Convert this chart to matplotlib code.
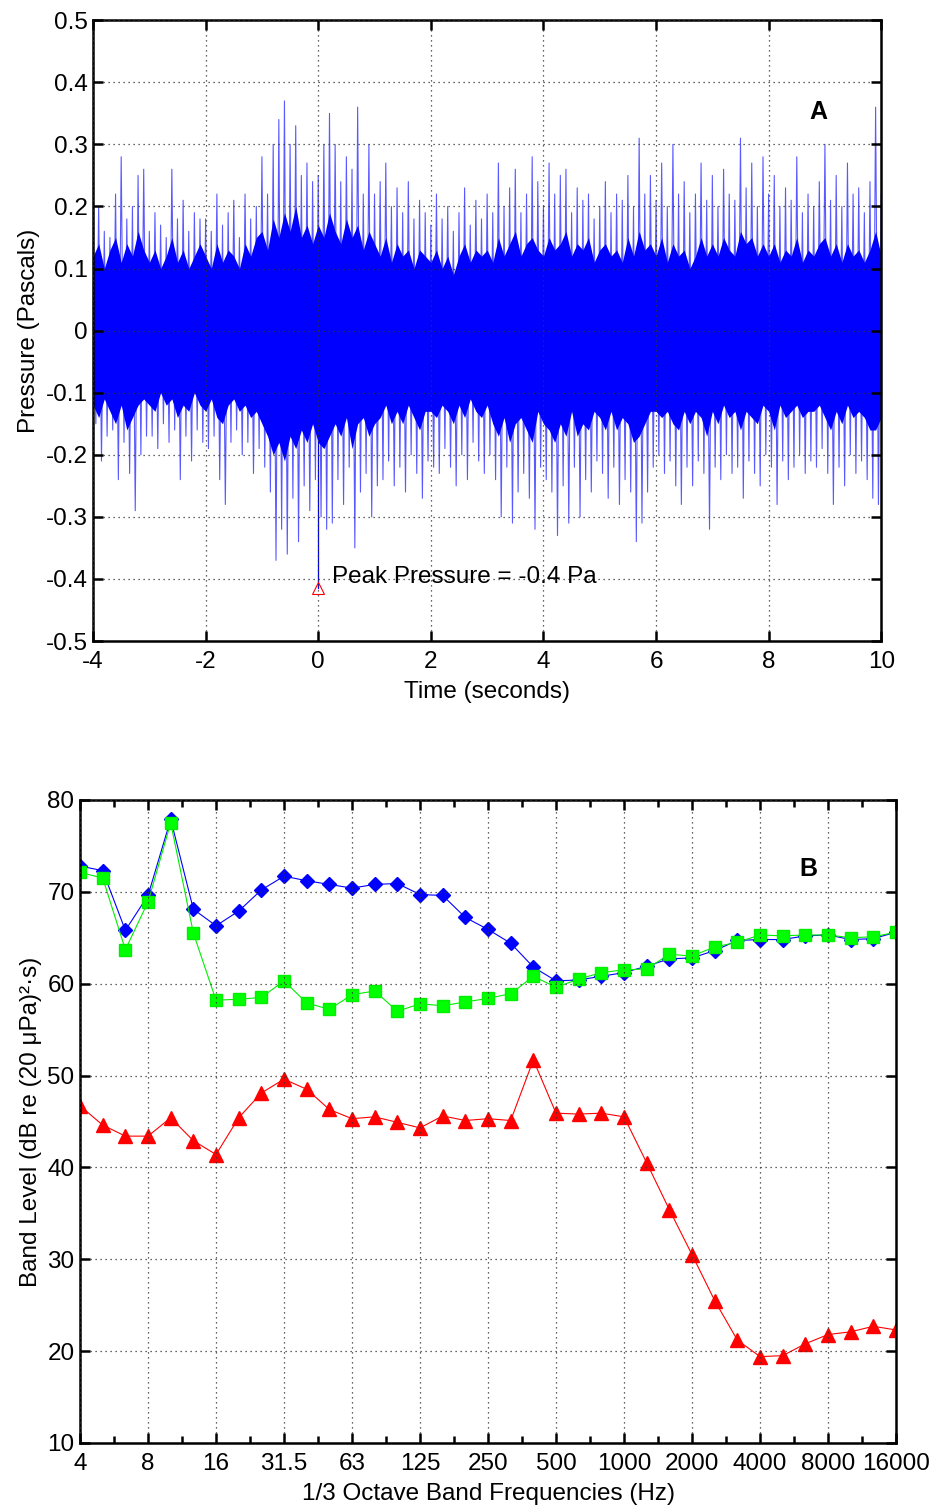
import numpy as np
import matplotlib
matplotlib.use("Agg")
from matplotlib import pyplot as plt

plt.rcParams['font.family'] = ['Liberation Sans', 'DejaVu Sans']
plt.rcParams['axes.unicode_minus'] = False

# ---- panel A: pressure trace, spike tips read every 0.1 s ----
t = np.linspace(-4, 10, 141)
upper = [0.17, 0.20, 0.16, 0.15, 0.22, 0.28, 0.18, 0.20, 0.25, 0.26,
         0.16, 0.19, 0.17, 0.15, 0.26, 0.18, 0.21, 0.16, 0.19, 0.18,
         0.18, 0.16, 0.22, 0.17, 0.19, 0.21, 0.15, 0.22, 0.18, 0.20,
         0.28, 0.22, 0.30, 0.34, 0.37, 0.30, 0.33, 0.25, 0.27, 0.24,
         0.25, 0.30, 0.35, 0.30, 0.24, 0.28, 0.26, 0.36, 0.22, 0.30,
         0.22, 0.24, 0.27, 0.20, 0.23, 0.19, 0.24, 0.18, 0.21, 0.19,
         0.17, 0.22, 0.18, 0.20, 0.16, 0.19, 0.23, 0.17, 0.21, 0.18,
         0.22, 0.19, 0.27, 0.20, 0.23, 0.26, 0.19, 0.22, 0.28, 0.24,
         0.20, 0.27, 0.22, 0.25, 0.26, 0.19, 0.23, 0.21, 0.22, 0.18,
         0.20, 0.24, 0.19, 0.22, 0.21, 0.25, 0.20, 0.31, 0.22, 0.25,
         0.21, 0.27, 0.20, 0.30, 0.22, 0.24, 0.19, 0.22, 0.27, 0.21,
         0.25, 0.20, 0.26, 0.22, 0.21, 0.31, 0.23, 0.27, 0.20, 0.28,
         0.22, 0.25, 0.20, 0.23, 0.21, 0.28, 0.19, 0.22, 0.20, 0.24,
         0.30, 0.21, 0.25, 0.20, 0.27, 0.22, 0.23, 0.19, 0.24, 0.36,
         0.22]
lower = [-0.15, -0.21, -0.17, -0.16, -0.24, -0.18, -0.23, -0.29, -0.20, -0.17,
         -0.17, -0.19, -0.15, -0.18, -0.16, -0.24, -0.17, -0.21, -0.16, -0.18,
         -0.19, -0.17, -0.24, -0.28, -0.18, -0.16, -0.20, -0.18, -0.23, -0.19,
         -0.22, -0.26, -0.37, -0.32, -0.36, -0.27, -0.34, -0.25, -0.29, -0.24,
         -0.30, -0.32, -0.31, -0.24, -0.28, -0.22, -0.35, -0.26, -0.23, -0.30,
         -0.25, -0.24, -0.21, -0.25, -0.22, -0.26, -0.20, -0.23, -0.27, -0.21,
         -0.22, -0.23, -0.19, -0.22, -0.25, -0.20, -0.24, -0.18, -0.21, -0.23,
         -0.20, -0.24, -0.30, -0.22, -0.31, -0.26, -0.23, -0.27, -0.32, -0.22,
         -0.24, -0.26, -0.33, -0.25, -0.31, -0.22, -0.30, -0.24, -0.26, -0.21,
         -0.23, -0.27, -0.22, -0.28, -0.24, -0.26, -0.34, -0.31, -0.26, -0.22,
         -0.20, -0.23, -0.21, -0.25, -0.28, -0.22, -0.25, -0.21, -0.23, -0.32,
         -0.22, -0.24, -0.20, -0.23, -0.22, -0.27, -0.21, -0.23, -0.25, -0.20,
         -0.22, -0.28, -0.21, -0.24, -0.22, -0.20, -0.23, -0.21, -0.22, -0.19,
         -0.23, -0.28, -0.22, -0.25, -0.20, -0.23, -0.21, -0.24, -0.27, -0.28,
         -0.24]
# edge of the dense (solid) part of the trace, same 0.1 s steps
core_hi = [0.12, 0.14, 0.10, 0.13, 0.15, 0.11, 0.14, 0.12, 0.16, 0.13,
           0.11, 0.13, 0.10, 0.12, 0.15, 0.11, 0.13, 0.10, 0.12, 0.14,
           0.12, 0.10, 0.14, 0.11, 0.13, 0.12, 0.10, 0.14, 0.12, 0.15,
           0.16, 0.13, 0.18, 0.15, 0.19, 0.16, 0.20, 0.15, 0.17, 0.14,
           0.17, 0.15, 0.19, 0.16, 0.14, 0.18, 0.15, 0.17, 0.13, 0.16,
           0.14, 0.12, 0.15, 0.11, 0.14, 0.12, 0.13, 0.10, 0.13, 0.12,
           0.11, 0.13, 0.10, 0.12, 0.09, 0.12, 0.14, 0.11, 0.13, 0.12,
           0.13, 0.11, 0.15, 0.12, 0.14, 0.16, 0.12, 0.14, 0.15, 0.13,
           0.12, 0.15, 0.13, 0.14, 0.16, 0.12, 0.14, 0.13, 0.15, 0.11,
           0.13, 0.14, 0.12, 0.13, 0.11, 0.15, 0.12, 0.16, 0.13, 0.14,
           0.12, 0.15, 0.11, 0.14, 0.12, 0.13, 0.10, 0.12, 0.15, 0.12,
           0.14, 0.12, 0.15, 0.13, 0.12, 0.16, 0.14, 0.15, 0.12, 0.14,
           0.12, 0.14, 0.11, 0.13, 0.12, 0.15, 0.11, 0.13, 0.12, 0.14,
           0.15, 0.12, 0.14, 0.11, 0.14, 0.12, 0.13, 0.11, 0.13, 0.16,
           0.12]
core_lo = [-0.12, -0.14, -0.11, -0.13, -0.15, -0.12, -0.16, -0.14, -0.12, -0.11,
           -0.12, -0.13, -0.10, -0.12, -0.11, -0.14, -0.12, -0.13, -0.10, -0.12,
           -0.13, -0.11, -0.14, -0.15, -0.12, -0.11, -0.13, -0.12, -0.14, -0.13,
           -0.15, -0.17, -0.20, -0.18, -0.21, -0.17, -0.19, -0.16, -0.18, -0.15,
           -0.18, -0.19, -0.17, -0.15, -0.17, -0.14, -0.19, -0.15, -0.14, -0.17,
           -0.15, -0.14, -0.12, -0.15, -0.13, -0.15, -0.12, -0.14, -0.16, -0.13,
           -0.13, -0.14, -0.12, -0.13, -0.15, -0.12, -0.14, -0.11, -0.13, -0.14,
           -0.12, -0.15, -0.17, -0.14, -0.18, -0.15, -0.14, -0.16, -0.18, -0.13,
           -0.15, -0.16, -0.18, -0.15, -0.17, -0.13, -0.17, -0.15, -0.16, -0.13,
           -0.14, -0.16, -0.13, -0.16, -0.14, -0.15, -0.18, -0.17, -0.15, -0.13,
           -0.13, -0.14, -0.13, -0.15, -0.16, -0.13, -0.15, -0.13, -0.14, -0.17,
           -0.13, -0.15, -0.12, -0.14, -0.13, -0.16, -0.13, -0.14, -0.15, -0.12,
           -0.13, -0.16, -0.12, -0.14, -0.13, -0.12, -0.14, -0.13, -0.13, -0.12,
           -0.14, -0.16, -0.13, -0.15, -0.12, -0.14, -0.13, -0.14, -0.16, -0.16,
           -0.14]
peak_t = 0.0
peak_p = -0.415

# ---- panel B: 1/3 octave band levels ----
bands = ['4', '5', '6.3', '8', '10', '12.5', '16', '20', '25', '31.5', '40', '50',
         '63', '80', '100', '125', '160', '200', '250', '315', '400', '500', '630',
         '800', '1000', '1250', '1600', '2000', '2500', '3150', '4000', '5000',
         '6300', '8000', '10000', '12500', '16000']
blue_lvl = [72.8, 72.3, 65.8, 69.6, 77.9, 68.1, 66.3, 67.9, 70.2, 71.7, 71.2, 70.8,
            70.4, 70.8, 70.9, 69.7, 69.6, 67.2, 65.9, 64.4, 61.8, 60.3, 60.4,
            60.8, 61.2, 61.9, 62.7, 62.8, 63.6, 64.7, 64.8, 64.8, 65.2, 65.3,
            64.8, 64.9, 65.6]
green_lvl = [72.1, 71.5, 63.7, 68.9, 77.5, 65.5, 58.2, 58.3, 58.5, 60.3, 57.9, 57.2,
             58.8, 59.2, 57.0, 57.8, 57.6, 58.0, 58.4, 58.9, 60.8, 59.6, 60.5,
             61.2, 61.5, 61.6, 63.2, 63.0, 64.0, 64.5, 65.3, 65.2, 65.3, 65.3,
             65.0, 65.1, 65.6]
red_lvl = [46.7, 44.6, 43.4, 43.4, 45.4, 42.9, 41.4, 45.4, 48.1, 49.6, 48.5, 46.3,
           45.3, 45.5, 44.9, 44.3, 45.6, 45.1, 45.3, 45.1, 51.7, 45.9, 45.8,
           45.9, 45.5, 40.5, 35.4, 30.5, 25.5, 21.2, 19.4, 19.5, 20.8, 21.8,
           22.1, 22.7, 22.3]

FS = 17.5
fig = plt.figure(figsize=(9.35, 15.07), dpi=100)

def style_axes(ax):
    for s in ax.spines.values():
        s.set_linewidth(1.8)
    ax.tick_params(which='both', direction='in', top=True, right=True,
                   width=1.8, labelsize=FS)
    ax.tick_params(which='major', length=7)
    ax.tick_params(which='minor', length=5)
    ax.tick_params(axis='x', which='both', pad=7)
    ax.tick_params(axis='y', which='both', pad=4)
    ax.grid(True, which='major', color='#333333', linestyle=(0, (1, 3)), linewidth=0.9)
    ax.set_axisbelow(False)

# panel A
ax1 = fig.add_axes([0.0995, 0.5746, 0.843, 0.412])
ax1.fill_between(t, core_lo, core_hi, color='#0000ff', linewidth=0)
zig_t = np.column_stack([t, t + 0.05]).ravel()
zig_p = np.column_stack([upper, lower]).ravel()
ax1.plot(zig_t, zig_p, color='#0000ff', linewidth=0.8, alpha=0.65)
ax1.plot([peak_t, peak_t], [0, peak_p], color='#0000ff', linewidth=0.9)
ax1.plot(peak_t, peak_p, marker='^', markersize=8, markerfacecolor='none',
         markeredgecolor='#ff0000', markeredgewidth=0.8, linestyle='none')
ax1.text(peak_t + 0.25, peak_p + 0.018, 'Peak Pressure = -0.4 Pa', fontsize=FS,
         va='center', ha='left')
ax1.text(0.92, 0.852, 'A', transform=ax1.transAxes, fontsize=18, fontweight='bold',
         ha='center', va='center')
ax1.set_xlim(-4, 10)
ax1.set_ylim(-0.5, 0.5)
ax1.set_xticks(np.arange(-4, 11, 2))
ax1.set_yticks(np.round(np.arange(-0.5, 0.51, 0.1), 1))
ax1.set_yticklabels(['-0.5', '-0.4', '-0.3', '-0.2', '-0.1', '0', '0.1', '0.2',
                     '0.3', '0.4', '0.5'])
ax1.set_xlabel('Time (seconds)', fontsize=FS, labelpad=6)
ax1.set_ylabel('Pressure (Pascals)', fontsize=FS, labelpad=4)
style_axes(ax1)

# panel B
ax2 = fig.add_axes([0.0856, 0.0425, 0.8727, 0.4267])
x = np.arange(len(bands))
ax2.plot(x, red_lvl, color='#ff0000', linewidth=0.8, marker='^', markersize=10,
         markerfacecolor='#ff0000', markeredgecolor='#ff0000')
ax2.plot(x, blue_lvl, color='#0000ff', linewidth=0.8, marker='D', markersize=7.5,
         markerfacecolor='#0000ff', markeredgecolor='#0000ff')
ax2.plot(x, green_lvl, color='#00ee00', linewidth=0.8, marker='s', markersize=8.5,
         markerfacecolor='#00ff00', markeredgecolor='#00ee00')
ax2.text(0.892, 0.893, 'B', transform=ax2.transAxes, fontsize=18, fontweight='bold',
         ha='center', va='center')
ax2.set_xlim(0, len(bands) - 1)
ax2.set_ylim(10, 80)
ax2.set_xticks(x[::3])
ax2.set_xticklabels(bands[::3])
ax2.set_xticks(np.arange(1.5, len(bands) - 1, 3), minor=True)
ax2.set_yticks(np.arange(10, 81, 10))
ax2.set_xlabel('1/3 Octave Band Frequencies (Hz)', fontsize=FS, labelpad=6)
ax2.set_ylabel('Band Level (dB re (20 μPa)²·s)', fontsize=FS, labelpad=4)
style_axes(ax2)

fig.savefig('out.png', dpi=100)
